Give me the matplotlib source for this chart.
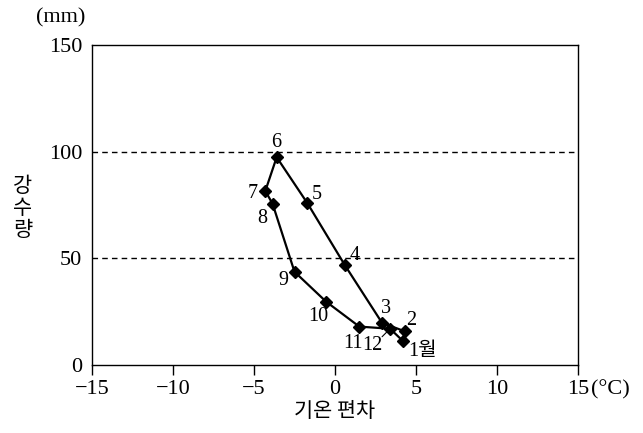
import matplotlib
matplotlib.use("Agg")
import matplotlib.pyplot as plt

months = [1, 2, 3, 4, 5, 6, 7, 8, 9, 10, 11, 12]
temp_dev = [4.2, 4.3, 2.9, 0.6, -1.7, -3.6, -4.3, -3.85, -2.5, -0.55, 1.5, 3.4]
precip = [11.2, 15.8, 19.8, 46.9, 75.8, 97.4, 81.6, 75.5, 43.7, 29.7, 18.0, 17.0]
point_labels = ["1월", "2", "3", "4", "5", "6", "7", "8", "9", "10", "11", "12"]
x_ticks = [-15, -10, -5, 0, 5, 10, 15]
y_ticks = [0, 50, 100, 150]

SERIF = ["Liberation Serif", "Noto Sans CJK KR", "DejaVu Serif"]
SANS = ["Noto Sans CJK KR", "DejaVu Sans"]

fig = plt.figure(figsize=(6.43, 4.33), dpi=100)
ax = fig.add_axes([92/643, 1-365/433, (578-92)/643, (365-45)/433])

for gy in [50, 100]:
    ax.axhline(gy, color="black", lw=1.0, ls=(0, (4, 3)), zorder=1)

xs = temp_dev + [temp_dev[0]]
ys = precip + [precip[0]]
ax.plot(xs, ys, color="black", lw=1.6, zorder=2)
ax.plot(temp_dev, precip, ls="none", marker="D", ms=6.5, color="black", zorder=3)

# label offsets in pixels (dx, dy up)
offsets = {
    1: (5, -10, "left"),
    2: (7, 11, "center"),
    3: (4, 14, "center"),
    4: (10, 9, "center"),
    5: (9, 9, "center"),
    6: (0, 15, "center"),
    7: (-13, -3, "center"),
    8: (-10, -15, "center"),
    9: (-11, -9, "center"),
    10: (-8, -15, "center"),
    11: (-6, -17, "center"),
    12: (-18, -17, "center"),
}
for m, x, y, lab in zip(months, temp_dev, precip, point_labels):
    dx, dy, ha = offsets[m]
    ax.annotate(lab, (x, y), xytext=(dx*0.72, dy*0.72), textcoords="offset points",
                ha=ha, va="center", fontsize=14.5, family=SERIF, zorder=4)

# leader line for 12
ax.annotate("", xy=(temp_dev[11], precip[11]), xytext=(-8*0.72, -8*0.72),
            textcoords="offset points",
            arrowprops=dict(arrowstyle="-", color="black", lw=0.8, shrinkA=0, shrinkB=2))

ax.set_xlim(-15, 15)
ax.set_ylim(0, 150)
ax.set_xticks(x_ticks)
ax.set_xticklabels([str(v).replace("-", "\u2212") for v in x_ticks], family=SERIF, fontsize=16)
ax.set_yticks(y_ticks)
ax.set_yticklabels([str(v) for v in y_ticks], family=SERIF, fontsize=16)
ax.tick_params(axis="x", direction="out", length=7, width=1, pad=4)
ax.tick_params(axis="y", length=0, pad=7)
for sp in ax.spines.values():
    sp.set_linewidth(1.0)

fig.text(591/643, 1-390/433, "(°C)", family=SERIF, fontsize=16, ha="left", va="center")
fig.text(61/643, 1-18/433, "(mm)", family=SERIF, fontsize=16, ha="center", va="center")
fig.text(335/643, 1-411/433, "기온 편차", family=SANS, fontsize=15, ha="center", va="center")
fig.text(23/643, 1-208/433, "강\n수\n량", family=SANS, fontsize=15, ha="center", va="center",
         linespacing=1.0)

fig.savefig("out.png", dpi=100)
